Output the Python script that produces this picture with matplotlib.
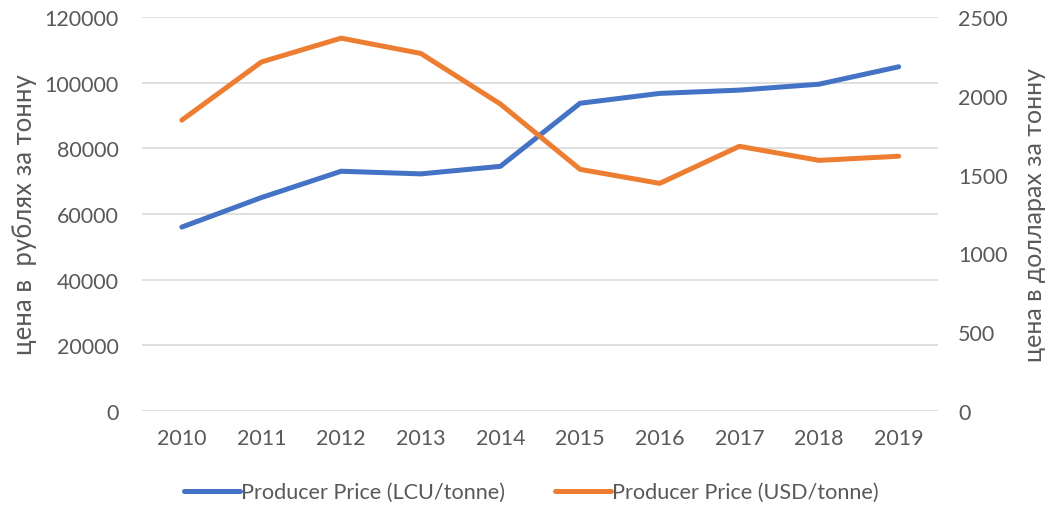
import matplotlib.pyplot as plt
from matplotlib.ticker import MultipleLocator

plt.rcParams['font.family'] = ['Lato', 'DejaVu Sans']

years = ['2010', '2011', '2012', '2013', '2014', '2015', '2016', '2017', '2018', '2019']
lcu_price = [56000, 65000, 73000, 72200, 74500, 93700, 96700, 97700, 99500, 104800]
usd_price = [1845, 2214, 2365, 2268, 1947, 1533, 1444, 1679, 1590, 1616]

txt = '#595959'
grid = '#d9d9d9'

fig = plt.figure(figsize=(10.48, 5.10), dpi=100)
ax = fig.add_axes([0.1355, 0.192, 0.76, 0.773])
ax2 = ax.twinx()

x = range(len(years))
l1, = ax.plot(x, lcu_price, color='#4472C4', linewidth=3.6, solid_capstyle='round',
              label='Producer Price (LCU/tonne)', zorder=3)
l2, = ax2.plot(x, usd_price, color='#ED7D31', linewidth=3.6, solid_capstyle='round',
               label='Producer Price (USD/tonne)', zorder=3)

ax.set_xlim(-0.5, len(years) - 0.5)
ax.set_ylim(0, 120000)
ax2.set_ylim(0, 2500)
ax.yaxis.set_major_locator(MultipleLocator(20000))
ax2.yaxis.set_major_locator(MultipleLocator(500))
ax.set_xticks(list(x))
ax.set_xticklabels(years)

ax.grid(axis='y', color=grid, linewidth=1.2)
ax.set_axisbelow(True)
for a in (ax, ax2):
    for s in a.spines.values():
        s.set_visible(False)
    a.tick_params(length=0, labelsize=15.5, colors=txt)
ax.tick_params(axis='y', pad=17)
ax.tick_params(axis='x', pad=12)
ax2.tick_params(axis='y', pad=14)

ax.set_ylabel('цена в  рублях за тонну', fontsize=18.5, color=txt, labelpad=5)
ax2.set_ylabel('цена в долларах за тонну', fontsize=18, color=txt, labelpad=11)

fig.legend(handles=[l1, l2], loc='center', bbox_to_anchor=(0.507, 0.033), ncol=2,
           frameon=False, fontsize=15.6, labelcolor=txt, handlelength=2.6,
           handletextpad=0.05, columnspacing=2.3)

fig.savefig('out.png', dpi=100)
